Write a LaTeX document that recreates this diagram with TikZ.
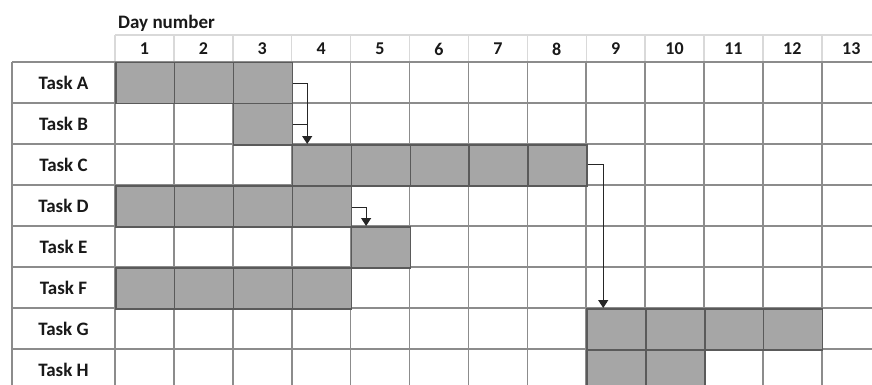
\documentclass[tikz,border=0pt]{standalone}
\usepackage{fontspec}
\setmainfont{Carlito}
\usetikzlibrary{arrows.meta}
\definecolor{barfill}{HTML}{A6A6A6}
\definecolor{bardraw}{HTML}{5A5A5A}
\definecolor{gridc}{HTML}{8C8C8C}
\definecolor{headc}{HTML}{D9D9D9}
\begin{document}
\begin{tikzpicture}[x=1pt,y=-1pt,
  lbl/.style={font=\bfseries\fontsize{19}{22}\selectfont, text=black!90, inner sep=0},
  hdr/.style={font=\bfseries\fontsize{18}{21}\selectfont, text=black!90, inner sep=0},
  bar/.style={fill=barfill, draw=bardraw, line width=1.5pt, minimum width=58.9pt, minimum height=41pt, inner sep=0, anchor=north west},
  gridline/.style={draw=gridc, line width=1.6pt},
  headline/.style={draw=headc, line width=1.4pt},
  link/.style={draw=black!85, line width=1.2pt},
  arr/.style={link, -{Triangle[length=8pt,width=10pt]}}]
\useasboundingbox (0,0) rectangle (872,385);
\clip (0,0) rectangle (872,385);
\fill[white] (0,0) rectangle (872,385);
% header lines
\draw[headline] (115,35) -- (890,35);
\foreach \k in {0,...,13} \draw[headline] (115+58.9*\k,35) -- (115+58.9*\k,62);
% grid
\foreach \k in {0,...,8} \draw[gridline] (12,62+41*\k) -- (890,62+41*\k);
\draw[gridline] (12,62) -- (12,400);
\foreach \k in {0,...,13} \draw[gridline] (115+58.9*\k,62) -- (115+58.9*\k,400);
% title
\node[lbl, anchor=base west] (title) at (118,29) {Day number};
% day numbers
\foreach \d in {1,...,13} \node[hdr] (day\d) at (115+58.9*\d-29.45,49) {\d};
% task labels
\foreach \t/\r in {A/0,B/1,C/2,D/3,E/4,F/5,G/6,H/7}
  \node[lbl] (task\t) at (63.5,82.5+41*\r) {Task \t};
% bars
\foreach \t/\r/\days in {A/0/{1,2,3},B/1/{3},C/2/{4,5,6,7,8},D/3/{1,2,3,4},E/4/{5},F/5/{1,2,3,4},G/6/{9,10,11,12},H/7/{9,10}}
  \foreach \d in \days
    \node[bar] (\t\d) at (115+58.9*\d-58.9,62+41*\r) {};
% dependencies
\coordinate (ab) at ([xshift=14pt]A3.east);
\draw[arr] (A3.east) -- (ab) -- (ab |- C4.north);
\draw[link] (B3.east) -- (B3.east -| ab);
\coordinate (de) at ([xshift=14pt,yshift=-1.5pt]D4.east);
\draw[arr] (D4.east |- de) -- (de) -- (de |- E5.north);
\coordinate (cg) at ([xshift=15.5pt,yshift=1pt]C8.east);
\draw[arr] (C8.east |- cg) -- (cg) -- (cg |- G9.north);
\end{tikzpicture}
\end{document}
